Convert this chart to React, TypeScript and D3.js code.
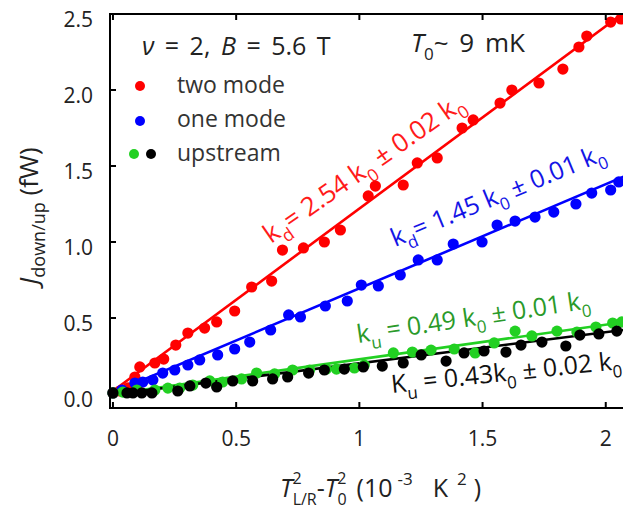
import React from "react";
import * as d3 from "d3";

const W = 623;
const H = 514;

const xTickValues = [0, 0.5, 1, 1.5, 2];
const xTickLabels = ["0", "0.5", "1", "1.5", "2"];
const yTickValues = [0, 0.5, 1, 1.5, 2, 2.5];
const yTickLabels = ["0.0", "0.5", "1.0", "1.5", "2.0", "2.5"];

// two mode (red)
const twoMode: [number, number][] = [
  [0, 0.007], [0.028, 0.02], [0.061, 0.04], [0.089, 0.112], [0.109, 0.178], [0.17, 0.204],
  [0.206, 0.23], [0.255, 0.322], [0.304, 0.401], [0.372, 0.434], [0.421, 0.474], [0.494, 0.546],
  [0.563, 0.704], [0.644, 0.743], [0.688, 0.947], [0.773, 0.961], [0.858, 1.0], [0.923, 1.079],
  [1.036, 1.303], [1.065, 1.368], [1.178, 1.375], [1.235, 1.52], [1.316, 1.553], [1.417, 1.75],
  [1.462, 1.803], [1.571, 1.914], [1.619, 2.0], [1.729, 2.046], [1.826, 2.138], [1.891, 2.283],
  [1.923, 2.355], [2.02, 2.447], [2.061, 2.467],
];

// one mode (blue)
const oneMode: [number, number][] = [
  [0, 0.007], [0.036, 0.026], [0.089, 0.072], [0.121, 0.079], [0.162, 0.092], [0.202, 0.138],
  [0.251, 0.158], [0.304, 0.191], [0.352, 0.224], [0.425, 0.257], [0.494, 0.296], [0.555, 0.342],
  [0.64, 0.421], [0.713, 0.52], [0.761, 0.507], [0.862, 0.579], [0.951, 0.612], [1.008, 0.717],
  [1.077, 0.711], [1.166, 0.783], [1.239, 0.882], [1.316, 0.882], [1.381, 0.987], [1.498, 1.0],
  [1.559, 1.112], [1.632, 1.138], [1.713, 1.164], [1.789, 1.197], [1.879, 1.25], [1.943, 1.322],
  [2.02, 1.342], [2.053, 1.395],
];

// upstream (green)
const upstreamGreen: [number, number][] = [
  [0, 0.007], [0.04, 0.013], [0.097, 0.026], [0.17, 0.026], [0.223, 0.039], [0.271, 0.039],
  [0.324, 0.059], [0.393, 0.086], [0.445, 0.079], [0.522, 0.099], [0.583, 0.138], [0.656, 0.132],
  [0.729, 0.158], [0.798, 0.158], [0.866, 0.164], [0.907, 0.164], [0.98, 0.171], [1.02, 0.191],
  [1.138, 0.27], [1.215, 0.276], [1.291, 0.289], [1.385, 0.296], [1.47, 0.27], [1.547, 0.336],
  [1.632, 0.414], [1.7, 0.382], [1.802, 0.414], [1.883, 0.408], [1.96, 0.441], [2.028, 0.467],
  [2.065, 0.474],
];

// upstream (black)
const upstreamBlack: [number, number][] = [
  [0, 0.007], [0.057, 0.007], [0.081, 0.007], [0.117, 0.007], [0.158, 0.007], [0.263, 0.02],
  [0.312, 0.053], [0.377, 0.072], [0.421, 0.046], [0.486, 0.086], [0.567, 0.086], [0.648, 0.099],
  [0.709, 0.112], [0.794, 0.138], [0.858, 0.158], [0.939, 0.164], [1.016, 0.178], [1.093, 0.184],
  [1.178, 0.204], [1.251, 0.257], [1.352, 0.217], [1.425, 0.27], [1.506, 0.283], [1.595, 0.276],
  [1.656, 0.322], [1.741, 0.342], [1.838, 0.316], [1.895, 0.388], [1.972, 0.395], [2.045, 0.414],
];

// linear fits: J = intercept + slope * x
const fitNames = ["two", "one", "green", "black"];
const fitSlopes = [1.2, 0.685, 0.228, 0.205];
const fitIntercepts = [0.02, 0.01, 0.0, -0.003];
const fitColors = ["#ff0000", "#0000ff", "#22d022", "#000000"];

const legendLabels = ["two mode", "one mode", "upstream"];

type Seg = { t: string; s?: "sub" | "sup"; i?: boolean; dx?: number };

const FONT = "'Open Sans', 'Noto Sans', sans-serif";

function Rich({
  x, y, rot = 0, size, color, segs, anchor = "start", subScale = 0.68,
}: {
  x: number; y: number; rot?: number; size: number; color: string; segs: Seg[]; anchor?: string; subScale?: number;
}) {
  let cur = 0;
  return (
    <text
      transform={`translate(${x},${y}) rotate(${rot})`}
      fontSize={size}
      fill={color}
      fontFamily={FONT}
      textAnchor={anchor as any}
    >
      {segs.map((s, k) => {
        const target = s.s === "sub" ? size * 0.32 : s.s === "sup" ? -size * 0.4 : 0;
        const dy = target - cur;
        cur = target;
        return (
          <tspan
            key={k}
            dy={dy}
            dx={s.dx ?? 0}
            fontSize={s.s ? size * subScale : size}
            fontStyle={s.i ? "italic" : "normal"}
          >
            {s.t}
          </tspan>
        );
      })}
    </text>
  );
}

export default function App() {
  const x = d3.scaleLinear().domain([-0.012, 2.07]).range([110, 623]);
  const y = d3.scaleLinear().domain([-0.092, 2.5]).range([408, 14]);

  const left = x.range()[0];
  const right = x.range()[1];
  const top = y.range()[1];
  const bottom = y.range()[0];

  const series = [
    { data: twoMode, color: "#ff0000" },
    { data: oneMode, color: "#0000ff" },
    { data: upstreamGreen, color: "#22d022" },
    { data: upstreamBlack, color: "#000000" },
  ];

  return (
    <svg
      width={W}
      height={H}
      style={{ position: "absolute", left: 0, top: 0, background: "#fff" }}
    >
      <defs>
        <clipPath id="plot">
          <rect x={left} y={top} width={right - left} height={bottom - top} />
        </clipPath>
      </defs>

      {/* fit lines */}
      <g clipPath="url(#plot)">
        {fitNames.map((n, k) => {
          const xs = [0, 2.1];
          const pts = xs.map((v) => [x(v), y(fitIntercepts[k] + fitSlopes[k] * v)] as [number, number]);
          return (
            <path
              key={n}
              d={d3.line()(pts) || ""}
              stroke={fitColors[k]}
              strokeWidth={2.6}
              fill="none"
            />
          );
        })}
      </g>

      {/* points */}
      <g>
        {series.map((s, si) =>
          s.data.map((d, k) => (
            <circle key={`${si}-${k}`} cx={x(d[0])} cy={y(d[1])} r={5.6} fill={s.color} />
          ))
        )}
      </g>

      {/* frame */}
      <g stroke="#000" strokeWidth={2} fill="none">
        <line x1={left} y1={top} x2={right} y2={top} />
        <line x1={left} y1={top - 1} x2={left} y2={bottom + 1} />
        <line x1={left} y1={bottom} x2={right} y2={bottom} />
        {xTickValues.map((v) => (
          <g key={`xt${v}`}>
            <line x1={x(v)} x2={x(v)} y1={bottom} y2={bottom - 6} />
            <line x1={x(v)} x2={x(v)} y1={top} y2={top + 6} />
          </g>
        ))}
        {yTickValues.map((v) => (
          <line key={`yt${v}`} x1={left} x2={left + 6} y1={y(v)} y2={y(v)} />
        ))}
      </g>

      {/* tick labels */}
      <g fontFamily={FONT} fontSize={21} fill="#222">
        {xTickValues.map((v, k) => (
          <text key={`xl${v}`} x={x(v)} y={446} textAnchor="middle">
            {xTickLabels[k]}
          </text>
        ))}
        {yTickValues.map((v, k) => (
          <text key={`yl${v}`} x={93} y={y(v) + 13} textAnchor="end">
            {yTickLabels[k]}
          </text>
        ))}
      </g>

      {/* y axis title */}
      <text
        transform={`translate(38,216) rotate(-90)`}
        fontFamily={FONT}
        fontSize={26}
        fill="#222"
        textAnchor="middle"
      >
        <tspan fontStyle="italic">J</tspan>
        <tspan fontSize={18} dy={7}>down/up</tspan>
        <tspan dy={-7}>{"   (fW)"}</tspan>
      </text>

      {/* x axis title */}
      <text x={280} y={497} fontFamily={FONT} fontSize={25} fill="#222">
        <tspan fontStyle="italic">T</tspan>
        <tspan fontSize={16} dy={-13}>2</tspan>
        <tspan fontSize={16} dx={-9} dy={21}>L/R</tspan>
        <tspan dy={-8}>-</tspan>
        <tspan fontStyle="italic">T</tspan>
        <tspan fontSize={16} dy={-13}>2</tspan>
        <tspan fontSize={16} dx={-9} dy={21}>0</tspan>
        <tspan dy={-8} dx={10}>(10</tspan>
        <tspan fontSize={17} dy={-12} dx={5}>-3</tspan>
        <tspan dy={12} dx={20}>K</tspan>
        <tspan fontSize={17} dy={-12} dx={9}>2</tspan>
        <tspan dy={12} dx={7}>)</tspan>
      </text>

      {/* header */}
      <text x={142} y={55} fontFamily={FONT} fontSize={25} fill="#222" style={{ wordSpacing: "4px" }}>
        <tspan fontStyle="italic">ν</tspan>
        <tspan>{" = 2, "}</tspan>
        <tspan fontStyle="italic">B</tspan>
        <tspan>{" = 5.6 T"}</tspan>
      </text>
      <text x={411} y={52} fontFamily={FONT} fontSize={26} fill="#222" style={{ wordSpacing: "4px" }}>
        <tspan fontStyle="italic">T</tspan>
        <tspan fontSize={17} dy={8}>0</tspan>
        <tspan dy={-8}>{"~ 9 mK"}</tspan>
      </text>

      {/* legend */}
      <g fontFamily={FONT} fontSize={23} fill="#333">
        <circle cx={140} cy={86} r={5} fill="#ff0000" />
        <text x={177} y={93}>{legendLabels[0]}</text>
        <circle cx={140} cy={121} r={5} fill="#0000ff" />
        <text x={177} y={127}>{legendLabels[1]}</text>
        <circle cx={134} cy={154} r={5} fill="#22d022" />
        <circle cx={151} cy={154} r={5} fill="#000000" />
        <text x={177} y={161}>{legendLabels[2]}</text>
      </g>

      {/* annotations */}
      <Rich
        x={271}
        y={244}
        rot={-35}
        size={26}
        color="#ff1a1a"
        segs={[
          { t: "k" }, { t: "d", s: "sub" }, { t: "= 2.54 k" }, { t: "0", s: "sub" },
          { t: " ± 0.02 k" }, { t: "0", s: "sub" },
        ]}
      />
      <Rich
        x={395}
        y={247}
        rot={-22.5}
        size={25}
        color="#1414e6"
        segs={[
          { t: "k" }, { t: "d", s: "sub" }, { t: "= 1.45 k" }, { t: "0", s: "sub" },
          { t: " ± 0.01 k" }, { t: "0", s: "sub" },
        ]}
      />
      <Rich
        x={358}
        y={343}
        rot={-8.5}
        size={25}
        color="#2a9a2a"
        segs={[
          { t: "k" }, { t: "u", s: "sub" }, { t: " = 0.49 k" }, { t: "0", s: "sub" },
          { t: " ± 0.01 k" }, { t: "0", s: "sub" },
        ]}
      />
      <Rich
        x={392}
        y={393}
        rot={-6}
        size={25}
        color="#111"
        segs={[
          { t: "K" }, { t: "u", s: "sub" }, { t: " = 0.43k" }, { t: "0", s: "sub" },
          { t: " ± 0.02 k" }, { t: "0", s: "sub" },
        ]}
      />
    </svg>
  );
}
